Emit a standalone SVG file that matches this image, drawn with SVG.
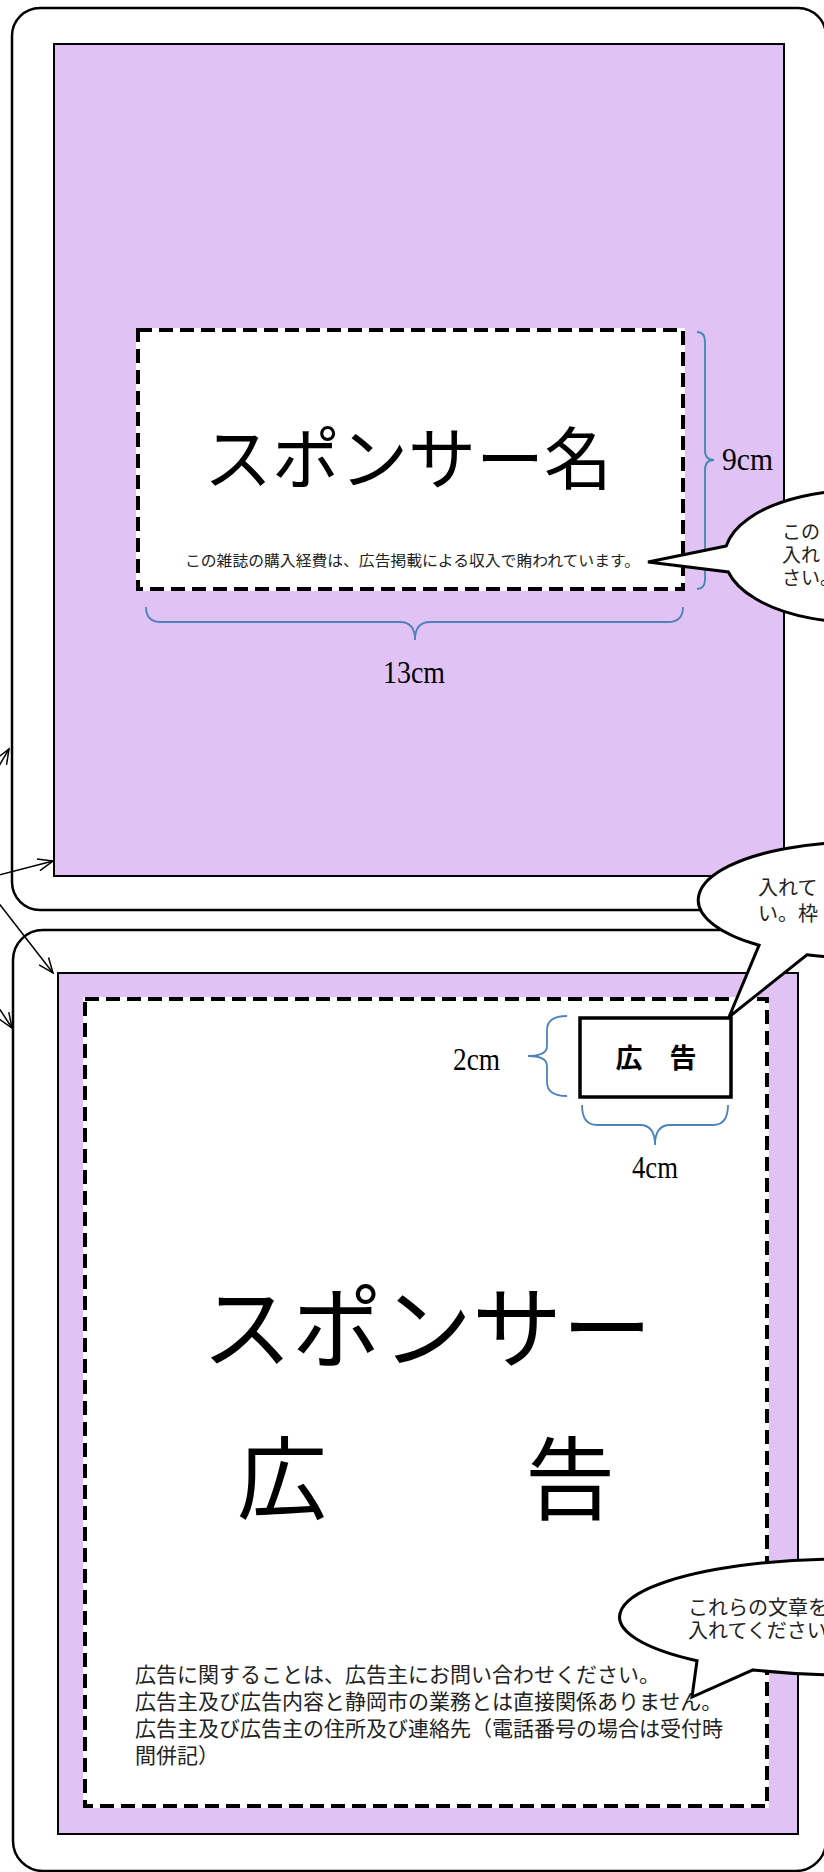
<svg xmlns="http://www.w3.org/2000/svg" width="824" height="1872" viewBox="0 0 824 1872">
<defs>
<style>
.outer{fill:#ffffff;stroke:#000;stroke-width:2.5}
.purple{fill:#e0c2f4;stroke:#000;stroke-width:2}
.dashbg{fill:#ffffff;stroke:#ffffff;stroke-width:4}
.dash{fill:none;stroke:#000;stroke-width:4;stroke-dasharray:14 7}
.brace{fill:none;stroke:#4f81bd;stroke-width:1.8}
.brace2{fill:none;stroke:#3e8aad;stroke-width:1.8}
.callout{fill:#ffffff;stroke:#000;stroke-width:3;stroke-linejoin:miter}
.jp{font-family:"Noto Sans CJK JP","Noto Sans CJK SC",sans-serif;fill:#222}
.big{font-family:"Noto Sans CJK JP","Noto Sans CJK SC",sans-serif;fill:#000}
.cm{font-family:"Liberation Serif","Noto Sans CJK JP",serif;font-size:32px;fill:#000}
.conn{fill:none;stroke:#000;stroke-width:1.5}
</style>
<marker id="arr" markerUnits="userSpaceOnUse" markerWidth="18" markerHeight="14" refX="16" refY="7" orient="auto">
<path d="M1,1 L16,7 L1,13" fill="none" stroke="#000" stroke-width="1.5"/>
</marker>
</defs>

<g id="panel1">
<rect class="outer" x="12" y="8" width="814" height="902" rx="28" ry="28"/>
<rect class="purple" x="54" y="44" width="730" height="832"/>
</g>

<g id="sponsor-name-box">
<rect class="dashbg" x="138" y="330" width="545" height="259"/>
<rect class="dash" x="138" y="330" width="545" height="259"/>
<text class="big" x="408" y="484" font-size="68" text-anchor="middle">スポンサー名</text>
<text class="jp" x="185" y="566" font-size="15" fill="#333" textLength="455" lengthAdjust="spacingAndGlyphs">この雑誌の購入経費は、広告掲載による収入で賄われています。</text>
</g>

<g id="dim-9cm">
<path class="brace2" d="M697,332 Q705,332 705,342 L705,450 Q705,460 714,460 Q705,460 705,470 L705,579 Q705,589 697,589"/>
<text class="cm" x="722" y="470" textLength="51" lengthAdjust="spacingAndGlyphs">9cm</text>
</g>

<g id="dim-13cm">
<path class="brace" d="M146,607 Q146,622 161,622 L400,622 Q415,622 415,640 Q415,622 430,622 L668,622 Q683,622 683,607"/>
<text class="cm" x="383" y="683" textLength="62" lengthAdjust="spacingAndGlyphs">13cm</text>
</g>

<g id="panel2">
<rect class="outer" x="13" y="930" width="813" height="941" rx="30" ry="30"/>
<rect class="purple" x="58" y="973" width="740" height="861"/>
</g>

<g id="ad-area">
<rect class="dashbg" x="85" y="999" width="682" height="807"/>
<rect class="dash" x="85" y="999" width="682" height="807"/>
<text class="big" x="427" y="1361" font-size="90" text-anchor="middle">スポンサー</text>
<text class="big" x="237" y="1512" font-size="90" textLength="378" lengthAdjust="spacing">広　　告</text>
<text class="jp" x="135" y="1682" font-size="21">広告に関することは、広告主にお問い合わせください。</text>
<text class="jp" x="135" y="1709" font-size="21">広告主及び広告内容と静岡市の業務とは直接関係ありません。</text>
<text class="jp" x="135" y="1736" font-size="21">広告主及び広告主の住所及び連絡先（電話番号の場合は受付時</text>
<text class="jp" x="135" y="1763" font-size="21">間併記）</text>
</g>

<g id="ad-label-box">
<rect x="580" y="1018" width="151" height="79" fill="#fff" stroke="#000" stroke-width="3.5"/>
<text class="big" x="656" y="1068" font-size="27" font-weight="bold" text-anchor="middle">広　告</text>
</g>

<g id="dim-2cm">
<path class="brace" d="M567,1016 Q547,1016 547,1030 L547,1046 Q547,1056 528,1056 Q547,1056 547,1066 L547,1082 Q547,1096 567,1096"/>
<text class="cm" x="453" y="1070" textLength="47" lengthAdjust="spacingAndGlyphs">2cm</text>
</g>

<g id="dim-4cm">
<path class="brace" d="M582,1105 Q582,1125 597,1125 L640,1125 Q655,1125 655,1145 Q655,1125 670,1125 L713,1125 Q728,1125 728,1105"/>
<text class="cm" x="632" y="1178" textLength="46" lengthAdjust="spacingAndGlyphs">4cm</text>
</g>

<g id="callout1">
<path class="callout" d="M726.2,546 L648,562 L728.3,572 A133,66 0 1 0 726.2,546 Z"/>
<text class="jp" x="782" y="539" font-size="19">この</text>
<text class="jp" x="782" y="562" font-size="19">入れ</text>
<text class="jp" x="782" y="585" font-size="19">さい。</text>
</g>

<g id="callout2">
<path class="callout" d="M759,945.3 L729,1017 L807,954.8 A162,58 0 1 0 759,945.3 Z"/>
<text class="jp" x="758" y="895" font-size="20">入れて</text>
<text class="jp" x="758" y="921" font-size="20">い。枠</text>
</g>

<g id="callout3">
<path class="callout" d="M697,1660.7 L692,1697 L753,1669.9 A225,58 0 1 0 697,1660.7 Z"/>
<text class="jp" x="688" y="1615" font-size="20">これらの文章を</text>
<text class="jp" x="688" y="1638" font-size="20">入れてください</text>
</g>

<g id="connectors">
<line class="conn" x1="-20" y1="798" x2="9" y2="749" marker-end="url(#arr)"/>
<line class="conn" x1="-20" y1="880" x2="53" y2="861" marker-end="url(#arr)"/>
<line class="conn" x1="-20" y1="879" x2="53" y2="973" marker-end="url(#arr)"/>
<line class="conn" x1="-20" y1="979" x2="12" y2="1028" marker-end="url(#arr)"/>
</g>
</svg>
